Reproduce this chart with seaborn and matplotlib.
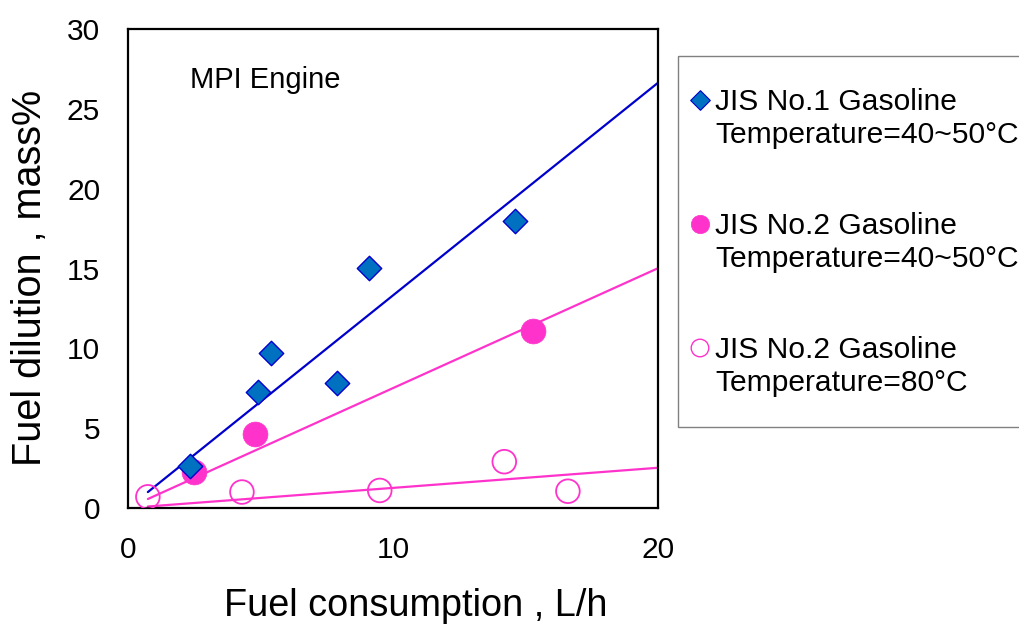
import numpy as np
import pandas as pd
import matplotlib
matplotlib.use("Agg")
import matplotlib.pyplot as plt
from matplotlib.ticker import MultipleLocator, FixedLocator
from matplotlib.patches import Rectangle
import seaborn as sns

# Fuel consumption (L/h) and fuel dilution (mass%) for each test condition
no1_4050_x = [2.35, 4.9, 5.4, 7.9, 9.1, 14.6]
no1_4050_y = [2.6, 7.25, 9.7, 7.8, 15.05, 18.0]

no2_4050_x = [2.5, 4.8, 15.3]
no2_4050_y = [2.25, 4.65, 11.1]

no2_80_x = [0.75, 4.3, 9.5, 14.2, 16.6]
no2_80_y = [0.7, 1.0, 1.1, 2.9, 1.05]

series_names = ["JIS No.1 Gasoline", "JIS No.2 Gasoline", "JIS No.2 Gasoline"]
series_conditions = ["Temperature=40~50°C", "Temperature=40~50°C", "Temperature=80°C"]

x_label = "Fuel consumption , L/h"
y_label = "Fuel dilution , mass%"
engine_label = "MPI Engine"
x_tick_labels = [0, 10, 20]
y_ticks = [0, 5, 10, 15, 20, 25, 30]
trend_range = [0.75, 20]

sns.set_theme(style="white")
plt.rcParams["font.family"] = ["Liberation Sans", "DejaVu Sans"]

W, H = 1019, 627
fig = plt.figure(figsize=(W / 100, H / 100), dpi=100)
ax = fig.add_axes([128 / W, 1 - 508 / H, 530 / W, 479 / H])

BLUE_FILL = "#0070C0"
BLUE_LINE = "#0000CC"
PINK = "#FF33CC"


def origin_slope(x, y):
    x = np.asarray(x, float)
    y = np.asarray(y, float)
    return float((x * y).sum() / (x * x).sum())


# least-squares trend lines through the origin
for xs, ys, col in [(no1_4050_x, no1_4050_y, BLUE_LINE),
                    (no2_4050_x, no2_4050_y, PINK),
                    (no2_80_x, no2_80_y, PINK)]:
    k = origin_slope(xs, ys)
    tx = np.array(trend_range, float)
    sns.lineplot(x=tx, y=k * tx, ax=ax, color=col, linewidth=1.6, zorder=2)

df1 = pd.DataFrame({"x": no1_4050_x, "y": no1_4050_y})
df2 = pd.DataFrame({"x": no2_4050_x, "y": no2_4050_y})
df3 = pd.DataFrame({"x": no2_80_x, "y": no2_80_y})

sns.scatterplot(data=df3, x="x", y="y", ax=ax, marker="o", s=290,
                facecolor="none", edgecolor=PINK, linewidth=1.3, zorder=3)
sns.scatterplot(data=df2, x="x", y="y", ax=ax, marker="o", s=320,
                color=PINK, edgecolor=PINK, linewidth=0.5, zorder=4)
sns.scatterplot(data=df1, x="x", y="y", ax=ax, marker="D", s=155,
                color=BLUE_FILL, edgecolor=BLUE_LINE, linewidth=1.0, zorder=5)

ax.set_xlim(0, 20)
ax.set_ylim(0, 30)
ax.xaxis.set_major_locator(FixedLocator(x_tick_labels))
ax.xaxis.set_minor_locator(MultipleLocator(2))
ax.yaxis.set_major_locator(FixedLocator(y_ticks))
ax.tick_params(axis="both", which="both", direction="in", length=7,
               width=1.0, color="#808080", labelsize=21.5, labelcolor="black")
ax.tick_params(axis="both", which="major", pad=20)
for sp in ax.spines.values():
    sp.set_visible(True)
    sp.set_color("black")
    sp.set_linewidth(1.6)

ax.set_xlabel(x_label, fontsize=27.3, color="black")
ax.set_ylabel(y_label, fontsize=28.5, color="black")
ax.xaxis.set_label_coords(0.543, -0.168)
ax.yaxis.set_label_coords(-0.149, 0.48)

ax.text(0.117, 0.877, engine_label, transform=ax.transAxes, fontsize=21,
        va="baseline", ha="left", color="black")

# legend panel, laid out in figure pixel units
lax = fig.add_axes([677 / W, 1 - 427 / H, 400 / W, 372 / H])
lax.set_xlim(677, 1077)
lax.set_ylim(427, 55)
lax.set_xticks([])
lax.set_yticks([])
for sp in lax.spines.values():
    sp.set_visible(False)
lax.add_patch(Rectangle((677.5, 55.5), 398, 371, facecolor="none",
                        edgecolor="#808080", linewidth=1.0, clip_on=False))

legend_markers = [
    dict(marker="D", s=100, color=BLUE_FILL, edgecolor=BLUE_LINE, linewidth=0.8),
    dict(marker="o", s=175, color=PINK, edgecolor=PINK, linewidth=0.5),
    dict(marker="o", s=160, facecolor="none", edgecolor=PINK, linewidth=1.0),
]
first_baseline = 110
entry_gap = 124
line_gap = 33
for i, (name, cond, mk) in enumerate(zip(series_names, series_conditions, legend_markers)):
    base = first_baseline + i * entry_gap
    lax.scatter([700], [base - 10], clip_on=False, **mk)
    lax.text(715, base, name, fontsize=21.6, va="baseline", ha="left", color="black")
    lax.text(715, base + line_gap, cond, fontsize=21.6, va="baseline", ha="left",
             color="black")

fig.savefig("out.png", dpi=100, facecolor="white")
